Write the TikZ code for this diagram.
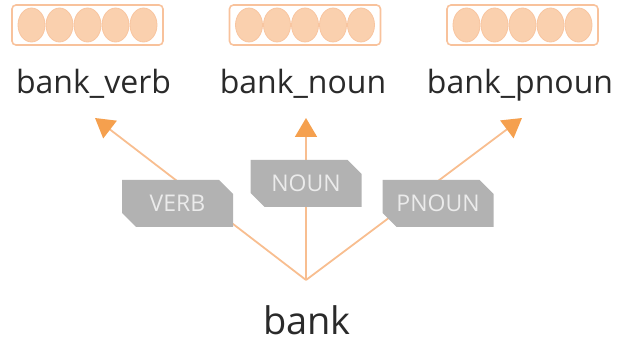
\documentclass[tikz,border=0pt]{standalone}
\usepackage{fontspec}
\setmainfont{Open Sans}
\usetikzlibrary{shapes.misc,arrows.meta,backgrounds}
\definecolor{lineC}{HTML}{F8BE90}
\definecolor{arrowC}{HTML}{F5A04E}
\definecolor{boxC}{HTML}{F8C29C}
\definecolor{ellC}{HTML}{FAD0AE}
\definecolor{tagC}{HTML}{B2B2B2}
\definecolor{txtC}{HTML}{2A2A2A}
\tikzset{
  vecbox/.style={draw=boxC, line width=1.6pt, rounded corners=4pt, minimum width=151pt, minimum height=40pt, inner sep=0pt},
  cell/.style={draw=boxC!80!ellC, line width=0.8pt, fill=ellC},
  wordlabel/.style={text=txtC, font=\fontsize{32}{36}\selectfont, anchor=base, inner sep=0pt},
  tagbox/.style={chamfered rectangle, chamfered rectangle corners={north east,south west}, chamfered rectangle xsep=7pt, chamfered rectangle ysep=7pt, fill=tagC, text=white!92!black, font=\fontsize{23}{26}\selectfont, minimum width=111pt, minimum height=47pt, inner sep=0pt},
  conn/.style={draw=lineC, line width=1.8pt},
  arr/.style={conn, -{Triangle[length=19pt,width=22pt,color=arrowC]}}
}
\begin{document}
\begin{tikzpicture}[x=1pt,y=-1pt]
\useasboundingbox (0,0) rectangle (623,344);
% vector boxes
\foreach \n/\cx in {vecV/87.5, vecN/305, vecP/522.5}{
  \node[vecbox] (\n) at (\cx,25) {};
  \foreach \dx in {-56,-28,0,28,56}{
    \draw[cell] ([xshift=\dx pt]\n.center) ellipse [x radius=13.5pt, y radius=17pt];
  }
}
% labels
\node[wordlabel] (lv) at (93.5,94) {bank\_verb};
\node[wordlabel] (ln) at (303,94) {bank\_noun};
\node[wordlabel] (lp) at (520,94) {bank\_pnoun};
\node[wordlabel, font=\fontsize{38}{42}\selectfont] (bank) at (307,334) {bank};
% tags
\node[tagbox] (verb) at (177.5,203.5) {VERB};
\node[tagbox] (noun) at (306,183.5) {NOUN};
\node[tagbox] (pnoun) at (438,203.5) {PNOUN};
% connector points
\coordinate (hub) at (306,280);
\coordinate (tv) at (95,118);
\coordinate (tn) at (306,118);
\coordinate (tp) at (522,118);
\begin{pgfonlayer}{background}
  \draw[arr] (hub) -- (tv);
  \draw[arr] (hub) -- (tn);
  \draw[arr] (hub) -- (tp);
\end{pgfonlayer}
\end{tikzpicture}
\end{document}
